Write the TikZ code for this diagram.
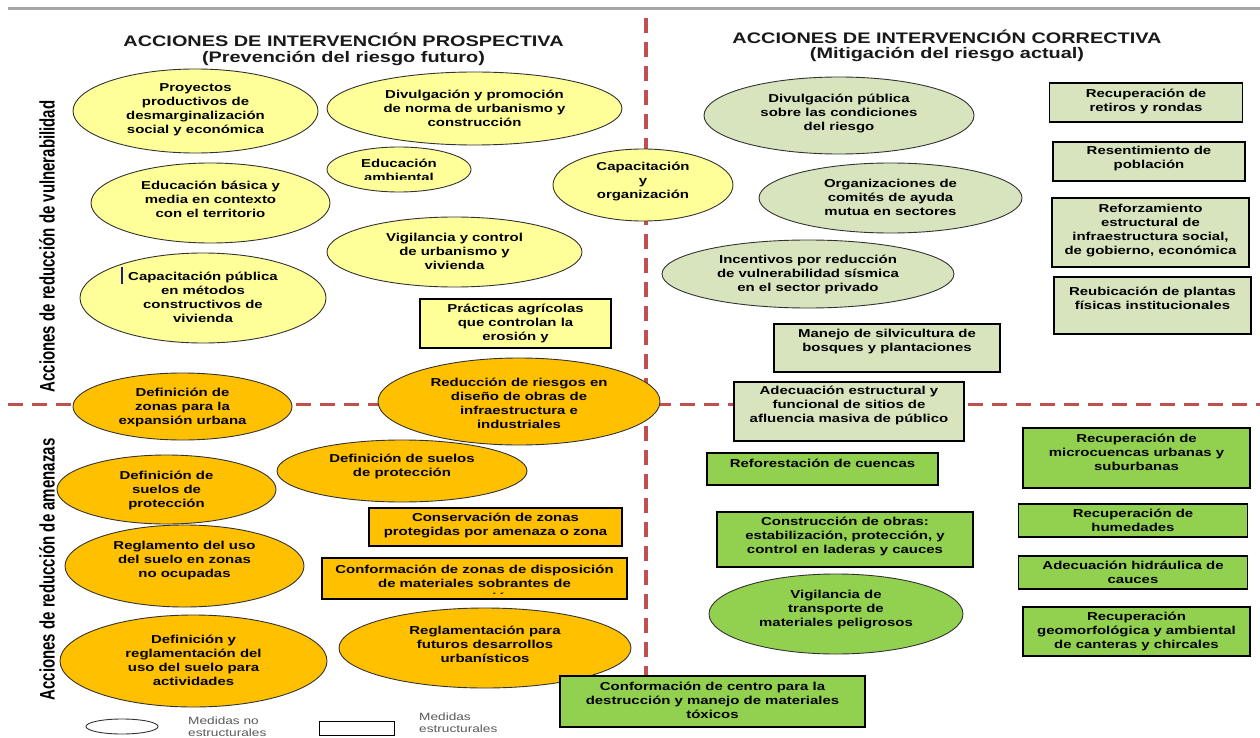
\documentclass[tikz,border=0pt]{standalone}
\usepackage{fontspec}
\setmainfont{Liberation Sans}[FakeStretch=1.3]
\newfontfamily\sidefont{Liberation Sans}
\usetikzlibrary{shapes.geometric}
\definecolor{yel}{HTML}{FFFF99}
\definecolor{ora}{HTML}{FFC000}
\definecolor{lgr}{HTML}{D7E4BD}
\definecolor{grn}{HTML}{92D050}
\definecolor{dashred}{HTML}{C0504D}
\definecolor{topgray}{HTML}{A6A6A6}
\definecolor{navy}{HTML}{1F1F7A}
\newcommand{\mytxt}{\fontsize{11.5}{14}\selectfont\bfseries}
\newcommand{\myttl}{\fontsize{15.3}{15.5}\selectfont\bfseries}
\newcommand{\myside}{\sidefont\fontsize{15}{15}\selectfont\bfseries}
\newcommand{\mylgd}{\fontsize{10.5}{12}\selectfont}
\tikzset{
  shp/.style={draw=black!80, line width=0.9pt, inner sep=0pt, outer sep=0pt},
  el/.style={shp, ellipse},
  bx/.style={shp, rectangle, draw=black, line width=1.3pt},
  tx/.style={align=center, font=\mytxt, inner sep=0pt, text=black},
  ttl/.style={align=center, font=\myttl, inner sep=0pt, text=black!90},
  sidelbl/.style={font=\myside, inner sep=0pt, rotate=90},
  lgd/.style={align=left, font=\mylgd, inner sep=0pt, text=black!65, anchor=west},
  divline/.style={draw=dashred, line width=3.5pt, dash pattern=on 15pt off 9pt},
}
\begin{document}
\begin{tikzpicture}[x=1pt,y=-1pt]
\useasboundingbox (0,0) rectangle (1260,738);
% top line
\coordinate (tl1) at (8,9);
\coordinate (tl2) at (1260,9);
\draw[topgray, line width=3pt] (tl1) -- (tl2);
% dividers
\coordinate (v1) at (646,18);
\coordinate (v2) at (646,676);
\coordinate (h1) at (8,404.5);
\coordinate (h2) at (1260,404.5);
\path[divline] (v1) -- (v2);
\path[divline] (h1) -- (h2);

% titles
\node[ttl] (t1) at (343.5,49.5) {ACCIONES DE INTERVENCIÓN PROSPECTIVA\\(Prevención del riesgo futuro)};
\node[ttl] (t2) at (947,46) {ACCIONES DE INTERVENCIÓN CORRECTIVA\\(Mitigación del riesgo actual)};

% side labels
\node[sidelbl] (s1) at (47,246.5) {\scalebox{1}[1.4]{Acciones de reducción de vulnerabilidad}};
\node[sidelbl] (s2) at (47,569.5) {\scalebox{1}[1.4]{Acciones de reducción de amenazas}};

% ---- prospective, vulnerability (yellow)
\node[el,fill=yel,minimum width=245,minimum height=84] (e1) at (195.5,111) {};
\node[tx] (e1t) at ([yshift=1pt]e1.center) {Proyectos\\productivos de\\desmarginalización\\social y económica};
\node[el,fill=yel,minimum width=295,minimum height=73] (e2) at (474.5,108.5) {};
\node[tx] (e2t) at (e2.center) {Divulgación y promoción\\de norma de urbanismo y\\construcción};
\node[el,fill=yel,minimum width=144,minimum height=45] (e3) at (399,169.5) {};
\begin{scope}
  \clip (330,145) rectangle (470,179.5);
  \node[tx] (e3t) at ([yshift=-0.5pt]e3.center) {Educación\\ambiental};
\end{scope}
\node[el,fill=yel,minimum width=180,minimum height=72] (e4) at (643,185) {};
\node[tx] (e4t) at ([yshift=3pt]e4.center) {Capacitación\\y\\organización};
\node[el,fill=yel,minimum width=239,minimum height=80] (e5) at (210.5,203) {};
\node[tx] (e5t) at ([yshift=3.5pt]e5.center) {Educación básica y\\media en contexto\\con el territorio};
\node[el,fill=yel,minimum width=255,minimum height=70] (e6) at (454.5,252) {};
\node[tx] (e6t) at ([yshift=1pt]e6.center) {Vigilancia y control\\de urbanismo y\\vivienda};
\node[el,fill=yel,minimum width=246,minimum height=90] (e7) at (203,298) {};
\node[tx] (e7t) at ([yshift=0.5pt]e7.center) {Capacitación pública\\en métodos\\constructivos de\\vivienda};
\draw[navy, line width=1.8pt] (122,267) -- (122,284);
\node[bx,fill=yel,minimum width=191,minimum height=49] (r1) at (515.5,323.5) {};
\node[tx] (r1t) at ([yshift=0.5pt]r1.center) {Prácticas agrícolas\\que controlan la\\erosión y};

% ---- prospective, hazards (orange)
\node[el,fill=ora,minimum width=219,minimum height=67] (o1) at (182.5,406.5) {};
\node[tx] (o1t) at ([yshift=-1pt]o1.center) {Definición de\\zonas para la\\expansión urbana};
\node[el,fill=ora,minimum width=282,minimum height=87] (o2) at (519,401.5) {};
\node[tx] (o2t) at ([yshift=-1.5pt]o2.center) {Reducción de riesgos en\\diseño de obras de\\infraestructura e\\industriales};
\node[el,fill=ora,minimum width=250,minimum height=62] (o3) at (402,471) {};
\node[tx] (o3t) at ([yshift=5pt]o3.center) {Definición de suelos\\de protección};
\node[el,fill=ora,minimum width=219,minimum height=69] (o4) at (166.5,489.5) {};
\node[tx] (o4t) at ([yshift=-0.5pt]o4.center) {Definición de\\suelos de\\protección};
\node[el,fill=ora,minimum width=239,minimum height=82] (o5) at (184.5,566) {};
\node[tx] (o5t) at ([yshift=5pt]o5.center) {Reglamento del uso\\del suelo en zonas\\no ocupadas};
\node[el,fill=ora,minimum width=267,minimum height=92] (o6) at (193.5,661) {};
\node[tx] (o6t) at ([yshift=1pt]o6.center) {Definición y\\reglamentación del\\uso del suelo para\\actividades};
\node[el,fill=ora,minimum width=292,minimum height=80] (o7) at (485,648) {};
\node[tx] (o7t) at ([yshift=4pt]o7.center) {Reglamentación para\\futuros desarrollos\\urbanísticos};
\node[bx,fill=ora,minimum width=253,minimum height=38] (r2) at (495.5,527) {};
\node[tx] (r2t) at ([yshift=2pt]r2.center) {Conservación de zonas\\protegidas por amenaza o zona};
\node[bx,fill=ora,minimum width=305,minimum height=41] (r3) at (474.5,578.5) {};
\begin{scope}
  \clip (323,559) rectangle (626,593.5);
  \node[tx] (r3t) at ([yshift=-4.5pt]r3.center) {Conformación de zonas de disposición\\de materiales sobrantes de\\excavación};
\end{scope}

% ---- corrective, vulnerability (light green)
\node[el,fill=lgr,minimum width=270,minimum height=77] (g1) at (839,115.5) {};
\node[tx] (g1t) at ([yshift=2pt]g1.center) {Divulgación pública\\sobre las condiciones\\del riesgo};
\node[el,fill=lgr,minimum width=263,minimum height=70] (g2) at (890.5,198) {};
\node[tx] (g2t) at ([yshift=1pt]g2.center) {Organizaciones de\\comités de ayuda\\mutua en sectores};
\node[el,fill=lgr,minimum width=292,minimum height=68] (g3) at (808,274) {};
\node[tx] (g3t) at (g3.center) {Incentivos por reducción\\de vulnerabilidad sísmica\\en el sector privado};
\node[bx,fill=lgr,minimum width=193,minimum height=39] (l1) at (1146,102.5) {};
\node[tx] (l1t) at ([yshift=1.5pt]l1.center) {Recuperación de\\retiros y rondas};
\node[bx,fill=lgr,minimum width=192,minimum height=39] (l2) at (1149,161.5) {};
\node[tx] (l2t) at ([yshift=3pt]l2.center) {Resentimiento de\\población};
\node[bx,fill=lgr,minimum width=197,minimum height=69] (l3) at (1150.5,232.5) {};
\node[tx] (l3t) at ([yshift=2pt]l3.center) {Reforzamiento\\estructural de\\infraestructura social,\\de gobierno, económica};
\node[bx,fill=lgr,minimum width=197,minimum height=57] (l4) at (1152.5,305.5) {};
\node[tx] (l4t) at ([yshift=7pt]l4.center) {Reubicación de plantas\\físicas institucionales};
\node[bx,fill=lgr,minimum width=226,minimum height=48] (l5) at (887,348) {};
\node[tx] (l5t) at ([yshift=6.5pt]l5.center) {Manejo de silvicultura de\\bosques y plantaciones};
\node[bx,fill=lgr,minimum width=230,minimum height=59] (l6) at (849,411.5) {};
\node[tx] (l6t) at ([yshift=6pt]l6.center) {Adecuación estructural y\\funcional de sitios de\\afluencia masiva de público};

% ---- corrective, hazards (green)
\node[bx,fill=grn,minimum width=231,minimum height=32] (d1) at (822.5,469) {};
\node[tx] (d1t) at ([yshift=6pt]d1.center) {Reforestación de cuencas};
\node[bx,fill=grn,minimum width=256,minimum height=55] (d2) at (845,539.5) {};
\node[tx] (d2t) at ([yshift=3pt]d2.center) {Construcción de obras:\\estabilización, protección, y\\control en laderas y cauces};
\node[bx,fill=grn,minimum width=227,minimum height=60] (d3) at (1136.5,458) {};
\node[tx] (d3t) at ([yshift=6pt]d3.center) {Recuperación de\\microcuencas urbanas y\\suburbanas};
\node[bx,fill=grn,minimum width=229,minimum height=33] (d4) at (1133,520.5) {};
\node[tx] (d4t) at (d4.center) {Recuperación de\\humedades};
\node[bx,fill=grn,minimum width=229,minimum height=33] (d5) at (1133,572.5) {};
\node[tx] (d5t) at (d5.center) {Adecuación hidráulica de\\cauces};
\node[bx,fill=grn,minimum width=227,minimum height=49] (d6) at (1136.5,631.5) {};
\node[tx] (d6t) at (d6.center) {Recuperación\\geomorfológica y ambiental\\de canteras y chircales};
\node[el,fill=grn,minimum width=254,minimum height=80] (ge) at (836,614) {};
\node[tx] (get) at ([yshift=4pt]ge.center) {Vigilancia de\\transporte de\\materiales peligrosos};
\node[bx,fill=grn,minimum width=305,minimum height=51] (d7) at (712.5,701.5) {};
\node[tx] (d7t) at ([yshift=1pt]d7.center) {Conformación de centro para la\\destrucción y manejo de materiales\\tóxicos};

% ---- legend
\node[el,fill=white,minimum width=72,minimum height=15] (lg1) at (122,726.5) {};
\node[lgd] (lg1t) at (188,727) {Medidas no\\estructurales};
\node[bx,fill=white,line width=1pt,minimum width=75,minimum height=14] (lg2) at (356.5,728) {};
\node[lgd] (lg2t) at (419,723) {Medidas\\estructurales};
\end{tikzpicture}
\end{document}
